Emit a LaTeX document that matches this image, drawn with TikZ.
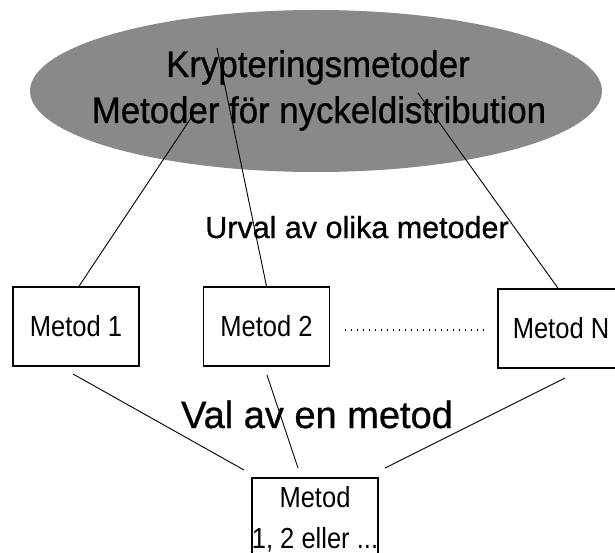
\documentclass[tikz,border=0pt]{standalone}
\usepackage{fontspec}
\setmainfont{Liberation Sans}
\newfontfamily\narrowsans{Liberation Sans}[FakeStretch=0.94, FakeBold=0.8]
\newfontfamily\labelsans{Liberation Sans}[FakeBold=0.8]
\newfontfamily\boxsans{Liberation Sans}[FakeStretch=0.88]
\usetikzlibrary{shapes.geometric}
\definecolor{ovalgray}{RGB}{137,137,137}
\tikzset{
  oval/.style={ellipse, fill=ovalgray, inner sep=0pt},
  methodbox/.style={draw, line width=1.6pt, fill=white, inner sep=0pt,
    minimum width=126pt, minimum height=79pt,
    font=\boxsans\fontsize{29}{32}\selectfont},
  boxtext/.style={anchor=base, inner sep=0pt, font=\boxsans\fontsize{29}{32}\selectfont},
  titletext/.style={anchor=base, inner sep=0pt, font=\narrowsans\fontsize{37}{40}\selectfont},
  stagetext/.style={anchor=base, inner sep=0pt},
  link/.style={line width=0.9pt},
  gapline/.style={line width=1.2pt, dash pattern=on 1.2pt off 4.8pt}
}
\begin{document}
\begin{tikzpicture}[x=1pt, y=-1pt]
\useasboundingbox (0,0) rectangle (615,553);

% Oval holding the two families of methods
\node[oval, minimum width=572pt, minimum height=162pt] (pool) at (316,91) {};

% Candidate methods
\node[methodbox] (m1) at (76,326.5) {Metod 1};
\node[methodbox] (m2) at (266.5,326.5) {Metod 2};
\node[methodbox] (mN) at (561,328.5) {Metod N};

% Chosen method (box runs past the lower edge)
\node[methodbox, minimum height=112pt] (pick) at (315,534) {};
\node[boxtext] (pickA) at (315,507) {Metod};
\node[boxtext] (pickB) at (315,548) {1, 2 eller ...};

% Connectors from the oval down to the candidates
\coordinate (s1) at (191,118);
\coordinate (s2) at (217,48);
\coordinate (s3) at (418,93);
\draw[link] (s1) -- ([xshift=3pt]m1.north);
\draw[link] (s2) -- (m2.north);
\draw[link] (s3) -- ([xshift=-3pt]mN.north);

% Dotted gap between Metod 2 and Metod N
\coordinate (g1) at (345,330);
\coordinate (g2) at (484,330);
\draw[gapline] (g1) -- (g2);

% Connectors from the candidates to the chosen method
\coordinate (u1) at (73,374);
\coordinate (v1) at (244,470);
\coordinate (u2) at (267,375);
\coordinate (v2) at (298,468);
\coordinate (u3) at (565,378);
\coordinate (v3) at (385,468);
\draw[link] (u1) -- (v1);
\draw[link] (u2) -- (v2);
\draw[link] (u3) -- (v3);

% Titles and stage labels
\node[titletext] (t1) at (318,77) {Krypteringsmetoder};
\node[titletext] (t2) at (319,123) {Metoder för nyckeldistribution};
\node[stagetext, font=\labelsans\fontsize{30.5}{33}\selectfont] (urval) at (357,238) {Urval av olika metoder};
\node[stagetext, font=\labelsans\fontsize{38}{41}\selectfont] (val) at (317,428) {Val av en metod};
\end{tikzpicture}
\end{document}
